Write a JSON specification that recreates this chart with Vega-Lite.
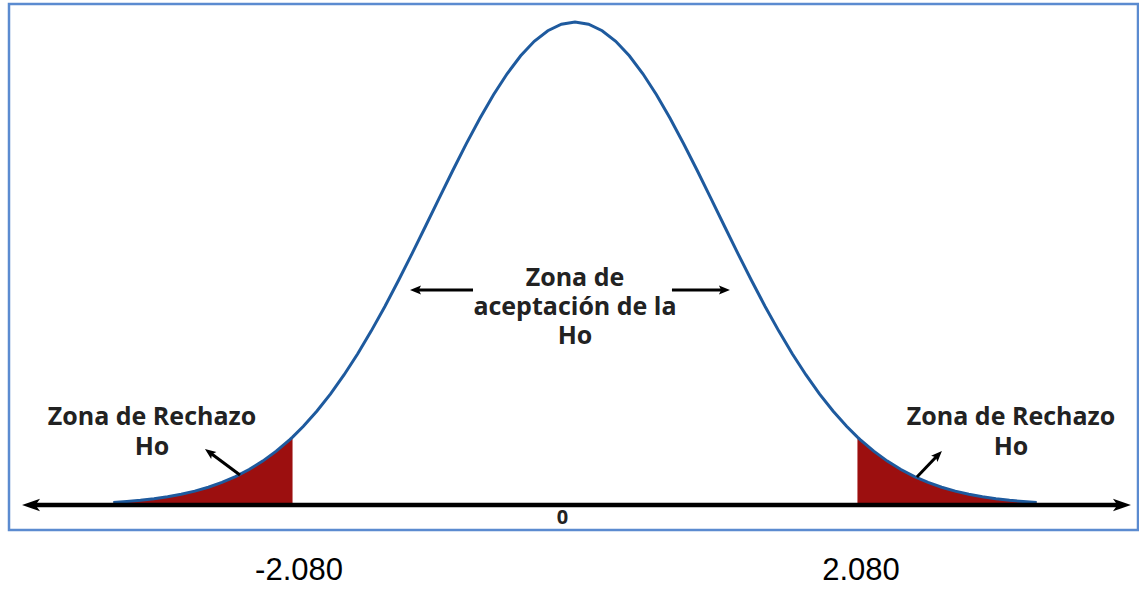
{
  "$schema": "https://vega.github.io/schema/vega-lite/v6.json",
  "width": 1129,
  "height": 526,
  "autosize": {"type": "none"},
  "padding": {"left": 9, "top": 4, "right": 1, "bottom": 61},
  "background": "white",
  "config": {"view": {"stroke": "#5b8bd0", "strokeWidth": 2.5}},
  "datasets": {
    "curve": [
      {"t": -3.4, "v": 0.0053}, {"t": -3.3, "v": 0.0072}, {"t": -3.2, "v": 0.0096}, {"t": -3.1, "v": 0.0128},
      {"t": -3.0, "v": 0.0169}, {"t": -2.9, "v": 0.0221}, {"t": -2.8, "v": 0.0286}, {"t": -2.7, "v": 0.0367},
      {"t": -2.6, "v": 0.0466}, {"t": -2.5, "v": 0.0587}, {"t": -2.4, "v": 0.0734}, {"t": -2.3, "v": 0.0908},
      {"t": -2.2, "v": 0.1114}, {"t": -2.1, "v": 0.1353}, {"t": -2.08, "v": 0.1406}, {"t": -2.0, "v": 0.163},
      {"t": -1.9, "v": 0.1945}, {"t": -1.8, "v": 0.2301}, {"t": -1.7, "v": 0.2697}, {"t": -1.6, "v": 0.3132},
      {"t": -1.5, "v": 0.3605}, {"t": -1.4, "v": 0.4111}, {"t": -1.3, "v": 0.4647}, {"t": -1.2, "v": 0.5204},
      {"t": -1.1, "v": 0.5777}, {"t": -1.0, "v": 0.6354}, {"t": -0.9, "v": 0.6926}, {"t": -0.8, "v": 0.7481},
      {"t": -0.7, "v": 0.8007}, {"t": -0.6, "v": 0.8494}, {"t": -0.5, "v": 0.8928}, {"t": -0.4, "v": 0.93},
      {"t": -0.3, "v": 0.96}, {"t": -0.2, "v": 0.982}, {"t": -0.1, "v": 0.9955}, {"t": 0.0, "v": 1.0},
      {"t": 0.1, "v": 0.9955}, {"t": 0.2, "v": 0.982}, {"t": 0.3, "v": 0.96}, {"t": 0.4, "v": 0.93},
      {"t": 0.5, "v": 0.8928}, {"t": 0.6, "v": 0.8494}, {"t": 0.7, "v": 0.8007}, {"t": 0.8, "v": 0.7481},
      {"t": 0.9, "v": 0.6926}, {"t": 1.0, "v": 0.6354}, {"t": 1.1, "v": 0.5777}, {"t": 1.2, "v": 0.5204},
      {"t": 1.3, "v": 0.4647}, {"t": 1.4, "v": 0.4111}, {"t": 1.5, "v": 0.3605}, {"t": 1.6, "v": 0.3132},
      {"t": 1.7, "v": 0.2697}, {"t": 1.8, "v": 0.2301}, {"t": 1.9, "v": 0.1945}, {"t": 2.0, "v": 0.163},
      {"t": 2.08, "v": 0.1406}, {"t": 2.1, "v": 0.1353}, {"t": 2.2, "v": 0.1114}, {"t": 2.3, "v": 0.0908},
      {"t": 2.4, "v": 0.0734}, {"t": 2.5, "v": 0.0587}, {"t": 2.6, "v": 0.0466}, {"t": 2.7, "v": 0.0367},
      {"t": 2.8, "v": 0.0286}, {"t": 2.9, "v": 0.0221}, {"t": 3.0, "v": 0.0169}, {"t": 3.1, "v": 0.0128},
      {"t": 3.2, "v": 0.0096}, {"t": 3.3, "v": 0.0072}, {"t": 3.4, "v": 0.0053}
    ],
    "axisline": [{"t": -3.984, "t2": 4.006, "v": 0}],
    "pointers": [
      {"t": -0.751, "v": 0.4451, "t2": -1.171, "v2": 0.4451},
      {"t": 0.714, "v": 0.4451, "t2": 1.097, "v2": 0.4451},
      {"t": -2.467, "v": 0.0621, "t2": -2.68, "v2": 0.1066},
      {"t": 2.518, "v": 0.058, "t2": 2.666, "v2": 0.1014}
    ],
    "pointerheads": [
      {"t": -1.215, "v": 0.4451, "heading": 180},
      {"t": 1.141, "v": 0.4451, "heading": 0},
      {"t": -2.725, "v": 0.1159, "heading": 216.6},
      {"t": 2.702, "v": 0.1118, "heading": 313.9}
    ],
    "axisheads": [
      {"t": -4.072, "v": 0, "heading": 180},
      {"t": 4.094, "v": 0, "heading": 0}
    ],
    "rejectlabels": [
      {"t": -3.115, "v": 0.1822, "label": ["Zona de Rechazo", "Ho"]},
      {"t": 3.211, "v": 0.1822, "label": ["Zona de Rechazo", "Ho"]}
    ],
    "acceptlabel": [
      {"t": 0.0, "v": 0.47, "label": ["Zona de", "aceptación de la", "Ho"]}
    ],
    "zero": [{"t": -0.092, "v": -0.0269, "label": "0"}],
    "critical": [
      {"t": -2.032, "v": -0.1366, "label": "-2.080"},
      {"t": 2.106, "v": -0.1366, "label": "2.080"}
    ]
  },
  "encoding": {
    "x": {"field": "t", "type": "quantitative", "axis": null, "scale": {"domain": [-4.168, 4.146], "nice": false, "zero": false}},
    "y": {"field": "v", "type": "quantitative", "axis": null, "scale": {"domain": [-0.0518, 1.0373], "nice": false, "zero": false}}
  },
  "layer": [
    {
      "data": {"name": "curve"},
      "transform": [{"filter": "datum.t <= -2.08"}],
      "mark": {"type": "area", "color": "#9c0f0f", "clip": false},
      "encoding": {"y2": {"datum": 0}}
    },
    {
      "data": {"name": "curve"},
      "transform": [{"filter": "datum.t >= 2.08"}],
      "mark": {"type": "area", "color": "#9c0f0f", "clip": false},
      "encoding": {"y2": {"datum": 0}}
    },
    {
      "data": {"name": "curve"},
      "mark": {"type": "line", "color": "#1e5a9e", "strokeWidth": 3},
      "encoding": {}
    },
    {
      "data": {"name": "axisline"},
      "mark": {"type": "rule", "color": "black", "strokeWidth": 4.5},
      "encoding": {"x2": {"field": "t2"}}
    },
    {
      "data": {"name": "axisheads"},
      "mark": {"type": "point", "filled": true, "color": "black", "opacity": 1, "size": 324, "shape": "M 0 0 L -2 -0.7 L -1.5 0 L -2 0.7 Z"},
      "encoding": {"angle": {"field": "heading", "type": "quantitative", "scale": null}}
    },
    {
      "data": {"name": "pointers"},
      "mark": {"type": "rule", "color": "black", "strokeWidth": 3},
      "encoding": {"x2": {"field": "t2"}, "y2": {"field": "v2"}}
    },
    {
      "data": {"name": "pointerheads"},
      "mark": {"type": "point", "filled": true, "color": "black", "opacity": 1, "size": 121, "shape": "M 0 0 L -2 -0.8 L -1.6 0 L -2 0.8 Z"},
      "encoding": {"angle": {"field": "heading", "type": "quantitative", "scale": null}}
    },
    {
      "data": {"name": "rejectlabels"},
      "mark": {"type": "text", "font": "Open Sans", "fontWeight": "bold", "fontSize": 25, "lineHeight": 30, "color": "#222222", "align": "center", "baseline": "middle"},
      "encoding": {"text": {"field": "label"}}
    },
    {
      "data": {"name": "acceptlabel"},
      "mark": {"type": "text", "font": "Open Sans", "fontWeight": "bold", "fontSize": 25, "lineHeight": 29, "color": "#222222", "align": "center", "baseline": "middle"},
      "encoding": {"text": {"field": "label"}}
    },
    {
      "data": {"name": "zero"},
      "mark": {"type": "text", "font": "Open Sans", "fontWeight": "bold", "fontSize": 20, "color": "#222222", "align": "center", "baseline": "middle"},
      "encoding": {"text": {"field": "label"}}
    },
    {
      "data": {"name": "critical"},
      "mark": {"type": "text", "font": "Liberation Sans", "fontSize": 31, "color": "black", "align": "center", "baseline": "middle", "clip": false},
      "encoding": {"text": {"field": "label"}}
    }
  ]
}
